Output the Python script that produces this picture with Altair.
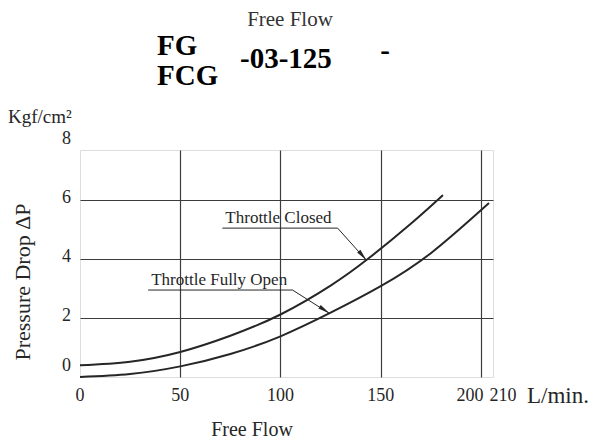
import altair as alt
import pandas as pd

# ---- data ----
flow_closed = [0, 25, 50, 75, 100, 125, 143.5, 165, 181]
dp_closed = [0.4, 0.52, 0.85, 1.4, 2.12, 3.1, 4.0, 5.2, 6.17]
flow_open = [0, 25, 50, 75, 100, 125, 150, 175, 204]
dp_open = [0.0, 0.1, 0.36, 0.78, 1.38, 2.18, 3.08, 4.2, 5.9]
series_names = ["Throttle Closed", "Throttle Fully Open"]

x_tick_values = [0, 50, 100, 150]
x_tick_end = [200, 210]
y_tick_values = [0, 2, 4, 6, 8]
grid_x = [50, 100, 150, 200]
grid_y = [2, 4, 6]

# annotation leaders (data units): underline start, underline end, arrow tip
closed_leader_x = [71, 128.5, 143]
closed_leader_y = [5.05, 5.05, 3.95]
open_leader_x = [34, 106, 124.6]
open_leader_y = [2.95, 2.95, 2.15]

X_DOMAIN = [0, 206]
Y_DOMAIN = [0, 7.7]
W, H = 413, 227
FONT = "Liberation Serif"
INK = "#262626"
GRID = "#3c3c3c"

xs = alt.Scale(domain=X_DOMAIN, nice=False, zero=False)
ys = alt.Scale(domain=Y_DOMAIN, nice=False, zero=False)

curves = pd.DataFrame({
    "flow": flow_closed + flow_open,
    "dp": dp_closed + dp_open,
    "series": [series_names[0]] * len(flow_closed) + [series_names[1]] * len(flow_open),
})

lines = alt.Chart(curves).mark_line(
    color=INK, strokeWidth=2, interpolate="natural"
).encode(
    x=alt.X("flow:Q", scale=xs,
            axis=alt.Axis(values=grid_x, grid=True, labels=False, ticks=False,
                          domain=False, title=None, gridColor=GRID, gridWidth=1.2,
                          gridOpacity=1)),
    y=alt.Y("dp:Q", scale=ys,
            axis=alt.Axis(values=grid_y, grid=True, labels=False, ticks=False,
                          domain=False, title=None, gridColor=GRID, gridWidth=1.2,
                          gridOpacity=1)),
    detail="series:N",
)

leaders_df = pd.DataFrame({
    "x": closed_leader_x + open_leader_x,
    "y": closed_leader_y + open_leader_y,
    "o": [0, 1, 2, 0, 1, 2],
    "s": [series_names[0]] * 3 + [series_names[1]] * 3,
})
leaders = alt.Chart(leaders_df).mark_line(color=INK, strokeWidth=1).encode(
    x=alt.X("x:Q", scale=xs), y=alt.Y("y:Q", scale=ys),
    detail="s:N", order="o:Q",
)

ARROW = "M0,0L-0.45,2.6L0.45,2.6Z"
arrow_closed = alt.Chart(pd.DataFrame({"x": [closed_leader_x[2]], "y": [closed_leader_y[2]]})).mark_point(
    shape=ARROW, filled=True, color=INK, opacity=1, size=90, angle=140
).encode(x=alt.X("x:Q", scale=xs), y=alt.Y("y:Q", scale=ys))
arrow_open = alt.Chart(pd.DataFrame({"x": [open_leader_x[2]], "y": [open_leader_y[2]]})).mark_point(
    shape=ARROW, filled=True, color=INK, opacity=1, size=90, angle=124
).encode(x=alt.X("x:Q", scale=xs), y=alt.Y("y:Q", scale=ys))

ann_df = pd.DataFrame({
    "x": [closed_leader_x[0], open_leader_x[0]],
    "y": [closed_leader_y[0], open_leader_y[0]],
    "t": series_names,
})
ann_text = alt.Chart(ann_df).mark_text(
    font=FONT, fontSize=17, color=INK, align="left", baseline="alphabetic", dx=3, dy=-5
).encode(x=alt.X("x:Q", scale=xs), y=alt.Y("y:Q", scale=ys), text="t:N")

# tick labels
xl = alt.Chart(pd.DataFrame({"v": x_tick_values})).mark_text(
    font=FONT, fontSize=18, color=INK, baseline="middle"
).encode(x=alt.X("v:Q", scale=xs), y=alt.value(H + 19), text="v:Q")
xl200 = alt.Chart(pd.DataFrame({"v": [x_tick_end[0]]})).mark_text(
    font=FONT, fontSize=18, color=INK, baseline="middle", dx=-11
).encode(x=alt.X("v:Q", scale=xs), y=alt.value(H + 19), text="v:Q")
xl210 = alt.Chart(pd.DataFrame({"v": [x_tick_end[1]]})).mark_text(
    font=FONT, fontSize=18, color=INK, baseline="middle", dx=2
).encode(x=alt.X("v:Q", scale=xs), y=alt.value(H + 19), text="v:Q")

yl = alt.Chart(pd.DataFrame({"v": y_tick_values[1:]})).mark_text(
    font=FONT, fontSize=18, color=INK, align="right", baseline="middle", dy=-2
).encode(x=alt.value(-9), y=alt.Y("v:Q", scale=ys), text="v:Q")
yl0 = alt.Chart(pd.DataFrame({"v": y_tick_values[:1]})).mark_text(
    font=FONT, fontSize=18, color=INK, align="right", baseline="middle", dy=-11
).encode(x=alt.value(-9), y=alt.Y("v:Q", scale=ys), text="v:Q")


def label(text, x, y, size, align="left", weight="normal", color=INK, angle=0):
    return alt.Chart(pd.DataFrame({"t": [text]})).mark_text(
        font=FONT, fontSize=size, fontWeight=weight, color=color,
        align=align, baseline="middle", angle=angle
    ).encode(x=alt.value(x), y=alt.value(y), text="t:N")


texts = [
    label("Free Flow", 210, -130, 21, align="center", color="#333333"),
    label("FG", 77, -104, 29, weight="bold", color="#000000"),
    label("FCG", 77, -74, 29, weight="bold", color="#000000"),
    label("-03-125", 160, -91, 29, weight="bold", color="#000000"),
    label("-", 305, -99, 29, align="center", weight="bold", color="#000000"),
    label("Kgf/cm²", -72, -33, 19),
    label("Pressure Drop ΔP", -57, 132, 22, align="center", angle=270),
    label("Free Flow", 172, 280, 20, align="center"),
    label("L/min.", 447, 246, 23),
]

chart = alt.layer(
    lines, leaders, arrow_closed, arrow_open, ann_text,
    xl, xl200, xl210, yl, yl0, *texts
).properties(
    width=W, height=H,
    autosize=alt.AutoSizeParams(type="none"),
    padding={"left": 72, "top": 142, "right": 102, "bottom": 63},
).configure_view(
    stroke=INK, strokeWidth=2
).configure(background="white")

chart.save("out.html", embed_options={"renderer": "svg", "actions": False})
